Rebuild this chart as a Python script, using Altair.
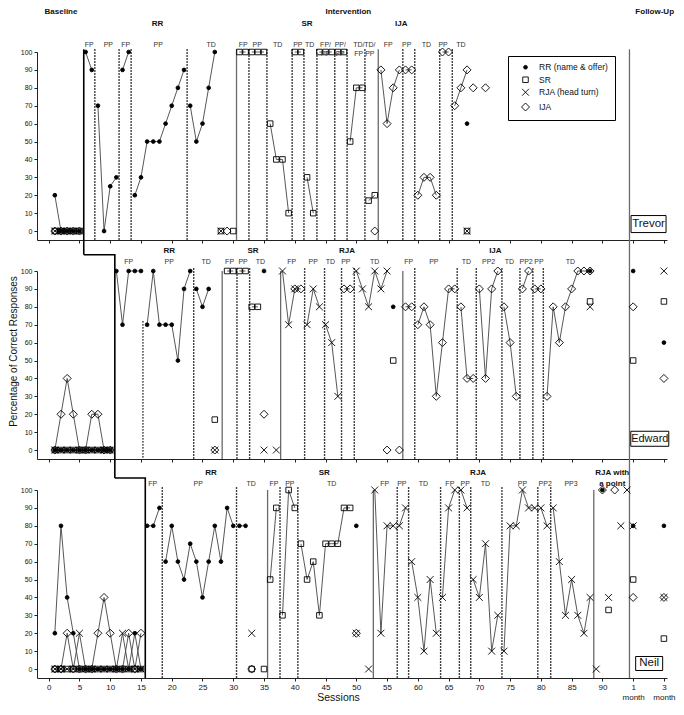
import altair as alt
import pandas as pd

# ---------------------------------------------------------------- data
SERIES = ["RR (name & offer)", "SR", "RJA (head turn)", "IJA"]
X_TICKS = [0, 5, 10, 15, 20, 25, 30, 35, 40, 45, 50, 55, 60, 65, 70, 75, 80, 85, 90, 95, 100]
Y_TICKS = [0, 10, 20, 30, 40, 50, 60, 70, 80, 90, 100]
# follow-up ticks (95 -> "1 month", 100 -> "3 month")
LABEL_EXPR = "datum.value == 95 ? ['1', 'month'] : (datum.value == 100 ? ['3', 'month'] : datum.label)"

# ---- Trevor
TREVOR_RR = [
    [(1, 20), (2, 0), (3, 0), (4, 0), (5, 0)],
    [(6, 100), (7, 90)],
    [(8, 70), (9, 0), (10, 25), (11, 30)],
    [(12, 90), (13, 100)],
    [(14, 20), (15, 30), (16, 50), (17, 50), (18, 50), (19, 60), (20, 70), (21, 80), (22, 90)],
    [(23, 70), (24, 50), (25, 60), (26, 80), (27, 100)],
    [(68, 60)],
]
TREVOR_SR = [
    [(1, 0), (2, 0), (3, 0), (4, 0), (5, 0)],
    [(28, 0)], [(30, 0)],
    [(31, 100), (32, 100)],
    [(33, 100), (34, 100), (35, 100)],
    [(36, 60), (37, 40), (38, 40), (39, 10)],
    [(40, 100), (41, 100)],
    [(42, 30), (43, 10)],
    [(44, 100), (45, 100), (46, 100)],
    [(47, 100), (48, 100)],
    [(49, 50), (50, 80), (51, 80)],
    [(52, 17), (53, 20)],
    [(68, 0)],
]
TREVOR_RJA = [
    [(1, 0), (2, 0), (3, 0), (4, 0), (5, 0)],
    [(28, 0)], [(68, 0)],
]
TREVOR_IJA = [
    [(1, 0), (2, 0), (3, 0), (4, 0), (5, 0)],
    [(29, 0)], [(53, 0)],
    [(54, 90), (55, 60), (56, 80), (57, 90)],
    [(58, 90), (59, 90)],
    [(60, 20), (61, 30), (62, 30), (63, 20)],
    [(64, 100), (65, 100)],
    [(66, 70), (67, 80), (68, 90)],
    [(69, 80)], [(71, 80)],
]

# ---- Edward
EDWARD_RR = [
    [(1, 0), (2, 0), (3, 0), (4, 0), (5, 0), (6, 0), (7, 0), (8, 0), (9, 0), (10, 0)],
    [(11, 100), (12, 70), (13, 100), (14, 100), (15, 100)],
    [(16, 70), (17, 100), (18, 70), (19, 70), (20, 70), (21, 50), (22, 90), (23, 100)],
    [(24, 90), (25, 80), (26, 90)],
    [(35, 100)], [(56, 80)], [(88, 100)],
    [(95, 100)], [(100, 60)],
]
EDWARD_SR = [
    [(1, 0), (2, 0), (3, 0), (4, 0), (5, 0), (6, 0), (7, 0), (8, 0), (9, 0), (10, 0)],
    [(27, 17)],
    [(29, 100), (30, 100)],
    [(31, 100), (32, 100)],
    [(33, 80), (34, 80)],
    [(56, 50)], [(88, 83)],
    [(95, 50)], [(100, 83)],
]
EDWARD_RJA = [
    [(1, 0), (2, 0), (3, 0), (4, 0), (5, 0), (6, 0), (7, 0), (8, 0), (9, 0), (10, 0)],
    [(27, 0)], [(35, 0)], [(37, 0)],
    [(38, 100), (39, 70), (40, 90)],
    [(42, 70), (43, 90), (44, 80)],
    [(45, 70), (46, 60), (47, 30)],
    [(50, 100), (51, 90), (52, 80), (53, 100), (54, 90), (55, 100)],
    [(88, 80)],
    [(100, 100)],
]
EDWARD_IJA = [
    [(1, 0), (2, 20), (3, 40), (4, 20), (5, 0), (6, 0), (7, 20), (8, 20), (9, 0), (10, 0)],
    [(27, 0)], [(35, 20)],
    [(40, 90), (41, 90)],
    [(48, 90), (49, 90)],
    [(55, 0)], [(57, 0)],
    [(58, 80), (59, 80)],
    [(60, 70), (61, 80), (62, 70), (63, 30), (64, 60), (65, 90), (66, 90)],
    [(67, 80), (68, 40), (69, 40)],
    [(70, 90), (71, 40), (72, 90), (73, 100)],
    [(74, 80), (75, 60), (76, 30)],
    [(77, 90), (78, 100)],
    [(79, 90), (80, 90)],
    [(81, 30), (82, 80), (83, 60), (84, 80), (85, 90), (86, 100), (87, 100), (88, 100)],
    [(95, 80)], [(100, 40)],
]

# ---- Neil
NEIL_RR = [
    [(1, 20), (2, 80), (3, 40), (4, 20), (5, 0), (6, 0), (7, 0), (8, 0), (9, 0), (10, 0),
     (11, 0), (12, 0), (13, 0), (14, 20), (15, 0)],
    [(16, 80), (17, 80), (18, 90)],
    [(19, 60), (20, 80), (21, 60), (22, 50), (23, 70), (24, 60), (25, 40), (26, 60),
     (27, 80), (28, 60), (29, 90), (30, 80)],
    [(31, 80), (32, 80)],
    [(50, 80)], [(90, 100)],
    [(95, 80)], [(100, 80)],
]
NEIL_SR = [
    [(1, 0), (2, 0), (3, 0), (4, 0), (5, 0), (6, 0), (7, 0), (8, 0), (9, 0), (10, 0),
     (11, 0), (12, 0), (13, 0), (14, 0), (15, 0)],
    [(33, 0)], [(35, 0)],
    [(36, 50), (37, 90)],
    [(38, 30), (39, 100), (40, 90)],
    [(41, 70), (42, 50), (43, 60), (44, 30), (45, 70), (46, 70), (47, 70), (48, 90), (49, 90)],
    [(91, 33)],
    [(95, 50)], [(100, 17)],
]
NEIL_RJA = [
    [(1, 0), (2, 0), (3, 0), (4, 0), (5, 20), (6, 0), (7, 0), (8, 0), (9, 0), (10, 0),
     (11, 0), (12, 20), (13, 0), (14, 0), (15, 0)],
    [(33, 20)], [(50, 20)], [(52, 0)],
    [(53, 100), (54, 20), (55, 80), (56, 80)],
    [(57, 80), (58, 90)],
    [(59, 60), (60, 40), (61, 10), (62, 50), (63, 20)],
    [(64, 40), (65, 90), (66, 100)],
    [(67, 100), (68, 90)],
    [(69, 50), (70, 40), (71, 70), (72, 10), (73, 30)],
    [(74, 10), (75, 80), (76, 80), (77, 100), (78, 90), (79, 90)],
    [(80, 90), (81, 80)],
    [(82, 90), (83, 60), (84, 30), (85, 50), (86, 30), (87, 20), (88, 40)],
    [(89, 0)], [(91, 40)], [(93, 80)], [(94, 100)],
    [(95, 80)], [(100, 40)],
]
NEIL_IJA = [
    [(1, 0), (2, 0), (3, 20), (4, 0), (5, 0), (6, 0), (7, 0), (8, 20), (9, 40), (10, 20),
     (11, 0), (12, 0), (13, 20), (14, 0), (15, 20)],
    [(33, 0)], [(50, 20)],
    [(90, 100)], [(92, 100)],
    [(95, 40)], [(100, 40)],
]

# ---- phase-change lines (session positions)
TREVOR_DOTTED = [7.5, 11.44, 13.4, 22.5, 32.55, 35.47, 39.57, 41.49, 43.6, 46.5, 48.5,
                 51.4, 57.56, 59.5, 63.56, 65.6]
TREVOR_SOLID = [30.53, 53.57]
EDWARD_DOTTED = [15.32, 23.57, 30.6, 32.66, 41.6, 44.84, 47.6, 49.67, 59.5, 66.4, 69.5,
                 73.67, 76.6, 78.7, 80.4]
EDWARD_SOLID = [28.2, 37.7, 57.56]
NEIL_DOTTED = [18.46, 30.53, 37.6, 40.5, 56.65, 58.5, 63.7, 66.75, 68.6, 73.67, 79.5, 81.6]
NEIL_SOLID = [35.58, 52.77, 88.6]
FOLLOW_UP_LINE = 94.4

# baseline -> intervention staircase, piece drawn in each panel
TREVOR_STEP = [(5.7, 101.5), (5.7, -13.2)]
EDWARD_STEP = [(5.7, 109.1), (10.75, 109.1), (10.75, -15.6)]
NEIL_STEP = [(10.75, 106.7), (15.7, 106.7), (15.7, -5)]

# ---- texts
HEADERS = [("Baseline", 2.0), ("Intervention", 48.7), ("Follow-Up", 98.5)]
TREVOR_PHASES = [("RR", 17.7), ("SR", 42.0), ("IJA", 57.3)]
TREVOR_SUB = [("FP", 6.6), ("PP", 9.7), ("FP", 12.5), ("PP", 17.8), ("TD", 26.4),
              ("FP", 31.6), ("PP", 33.9), ("TD", 37.2), ("PP", 40.5), ("TD", 42.4),
              ("FP/\nFP", 45.0), ("PP/\nFP", 47.4), ("TD/\nFP", 50.4), ("TD/\nPP", 52.2),
              ("FP", 55.2), ("PP", 58.2), ("TD", 61.4), ("PP", 64.1), ("TD", 67.0)]
EDWARD_PHASES = [("RR", 19.6), ("SR", 33.2), ("RJA", 48.5), ("IJA", 72.6)]
EDWARD_SUB = [("FP", 13.0), ("PP", 19.6), ("TD", 25.6), ("FP", 29.4), ("PP", 31.6),
              ("TD", 34.4), ("FP", 39.5), ("PP", 43.0), ("TD", 45.8), ("PP", 48.3),
              ("TD", 53.0), ("FP", 58.5), ("PP", 62.6), ("TD", 67.9), ("PP2", 71.5),
              ("TD", 74.9), ("PP2", 77.6), ("PP", 79.7), ("TD", 84.8)]
NEIL_PHASES = [("RR", 26.4), ("SR", 44.8), ("RJA", 69.8), ("RJA with\na point", 91.6)]
NEIL_SUB = [("FP", 16.9), ("PP", 24.3), ("TD", 32.9), ("FP", 36.6), ("PP", 39.2),
            ("TD", 46.0), ("FP", 54.6), ("PP", 57.4), ("TD", 60.9), ("FP", 65.2),
            ("PP", 67.7), ("TD", 71.0), ("PP", 77.0), ("PP2", 80.7), ("PP3", 84.9)]

# ---------------------------------------------------------------- layout / style
XDOM = [-1.9, 100.5]
YDOM = [-5, 100]
W, H, GAP = 630, 188, 31
XPATH = "M-1,-1L1,1M-1,1L1,-1"
SHAPES = ["circle", "square", XPATH, "diamond"]
FILLS = ["black", "transparent", "transparent", "transparent"]
STROKES = ["black", "black", "black", "black"]

PANELS = [
    dict(name="Trevor", groups=[TREVOR_RR, TREVOR_SR, TREVOR_RJA, TREVOR_IJA],
         dotted=TREVOR_DOTTED, short={}, solid=TREVOR_SOLID, solid_top=101.5,
         step=TREVOR_STEP, fu=(101.5, -22.3),
         phases=TREVOR_PHASES, phase_y=115.6, sub=TREVOR_SUB, sub_y=102.0,
         name_xy=(97.5, 3.9), box=(35, 17), name_size=11.5),
    dict(name="Edward", groups=[EDWARD_RR, EDWARD_SR, EDWARD_RJA, EDWARD_IJA],
         dotted=EDWARD_DOTTED, short={15.32: 72}, solid=EDWARD_SOLID, solid_top=100,
         step=EDWARD_STEP, fu=(100, -22.3),
         phases=EDWARD_PHASES, phase_y=111.0, sub=EDWARD_SUB, sub_y=103.2,
         name_xy=(97.7, 6.3), box=(38, 15), name_size=11),
    dict(name="Neil", groups=[NEIL_RR, NEIL_SR, NEIL_RJA, NEIL_IJA],
         dotted=NEIL_DOTTED, short={}, solid=NEIL_SOLID, solid_top=100,
         step=NEIL_STEP, fu=(100, -5),
         phases=NEIL_PHASES, phase_y=109.6, sub=NEIL_SUB, sub_y=101.4,
         name_xy=(97.6, 3.1), box=(27, 14), name_size=11.5),
]


def series_frame(groups):
    rows = []
    for sname, segs in zip(SERIES, groups):
        for k, seg in enumerate(segs):
            for sx, sy in seg:
                rows.append({"series": sname, "seg": f"{sname}-{k}", "x": sx, "y": sy})
    return pd.DataFrame(rows)


def build_panel(cfg, idx):
    first, last = idx == 0, idx == 2
    xs = alt.Scale(domain=XDOM, nice=False, zero=False)
    ys = alt.Scale(domain=YDOM, nice=False, zero=False)

    xaxis_kw = dict(values=X_TICKS, grid=False, tickSize=3, tickColor="#222",
                    domainColor="#222", labels=last, labelFontSize=8, labelPadding=2,
                    labelColor="#111", labelOverlap=False, labelFlush=False,
                    labelLineHeight=10, labelExpr=LABEL_EXPR)
    if last:
        xaxis_kw.update(titleFontSize=10.5, titleFontWeight="normal", titleColor="#111",
                        titleY=14, titleX=round((47 - XDOM[0]) / (XDOM[1] - XDOM[0]) * W))
    yaxis_kw = dict(values=Y_TICKS, grid=False, tickSize=3, tickColor="#222",
                    domainColor="#222", labelFontSize=7, labelPadding=2, labelColor="#111")
    if idx == 1:
        yaxis_kw.update(titleFontSize=10, titleFontWeight="normal", titleColor="#111",
                        titlePadding=2, titleY=80)

    X = alt.X("x:Q", scale=xs, axis=alt.Axis(**xaxis_kw),
              title="Sessions" if last else None)
    Y = alt.Y("y:Q", scale=ys, axis=alt.Axis(**yaxis_kw),
              title="Percentage of Correct Responses" if idx == 1 else None)

    # vertical phase lines
    dot_df = pd.DataFrame({"x": cfg["dotted"],
                           "y": [cfg["short"].get(v, 101.5) for v in cfg["dotted"]],
                           "y2": [-5] * len(cfg["dotted"])})
    dotted = alt.Chart(dot_df).mark_rule(color="black", strokeWidth=1.4,
                                         strokeDash=[1.4, 1.6]).encode(x=X, y=Y, y2="y2:Q")
    sol_df = pd.DataFrame({"x": cfg["solid"], "y": [cfg["solid_top"]] * len(cfg["solid"]),
                           "y2": [-5] * len(cfg["solid"])})
    solid = alt.Chart(sol_df).mark_rule(color="#6a6a6a", strokeWidth=1.3).encode(
        x=X, y=Y, y2="y2:Q")
    fu_df = pd.DataFrame({"x": [FOLLOW_UP_LINE], "y": [cfg["fu"][0]], "y2": [cfg["fu"][1]]})
    fu = alt.Chart(fu_df).mark_rule(color="#6a6a6a", strokeWidth=1.3).encode(
        x=X, y=Y, y2="y2:Q")
    step_df = pd.DataFrame({"x": [p[0] for p in cfg["step"]],
                            "y": [p[1] for p in cfg["step"]],
                            "o": list(range(len(cfg["step"])))})
    step = alt.Chart(step_df).mark_line(color="black", strokeWidth=1.6).encode(
        x=X, y=Y, order="o:Q")

    # data series
    sdf = series_frame(cfg["groups"])
    lines = alt.Chart(sdf).mark_line(color="#444", strokeWidth=0.9).encode(
        x=X, y=Y, detail="seg:N", order="x:Q")
    if first:
        leg = alt.Legend(title=None, orient="none",
                         legendX=round((74.7 - XDOM[0]) / (XDOM[1] - XDOM[0]) * W),
                         legendY=4, strokeColor="black", fillColor="white", padding=7,
                         labelFontSize=8.5, labelColor="#111", rowPadding=2.5,
                         symbolOffset=6, labelOffset=9, symbolStrokeWidth=0.9)
    else:
        leg = None
    pts = alt.Chart(sdf).mark_point(filled=True, strokeWidth=0.9, opacity=1).encode(
        x=X, y=Y,
        shape=alt.Shape("series:N", scale=alt.Scale(domain=SERIES, range=SHAPES), legend=leg),
        fill=alt.Fill("series:N", scale=alt.Scale(domain=SERIES, range=FILLS), legend=leg),
        stroke=alt.Stroke("series:N", scale=alt.Scale(domain=SERIES, range=STROKES),
                          legend=leg),
        size=alt.Size("series:N", scale=alt.Scale(domain=SERIES, range=[14, 64], padding=0),
                      legend=leg),
    )

    # texts
    sub_df = pd.DataFrame({"t": [s[0] for s in cfg["sub"]], "x": [s[1] for s in cfg["sub"]],
                           "y": [cfg["sub_y"]] * len(cfg["sub"])})
    sub = alt.Chart(sub_df).mark_text(fontSize=7, color="#333", baseline="bottom",
                                      lineBreak="\n").encode(x=X, y=Y, text="t:N")
    ph_df = pd.DataFrame({"t": [s[0] for s in cfg["phases"]],
                          "x": [s[1] for s in cfg["phases"]],
                          "y": [cfg["phase_y"]] * len(cfg["phases"])})
    ph = alt.Chart(ph_df).mark_text(fontSize=8, fontWeight="bold", color="#111",
                                    baseline="middle", lineBreak="\n",
                                    lineHeight=11).encode(x=X, y=Y, text="t:N")

    bw, bh = cfg["box"]
    name_df = pd.DataFrame({"t": [cfg["name"]], "x": [cfg["name_xy"][0]],
                            "y": [cfg["name_xy"][1]]})
    box = alt.Chart(name_df).mark_point(
        shape=f"M-1,{-bh / bw:.3f}H1V{bh / bw:.3f}H-1Z", size=bw * bw, filled=False,
        stroke="black", strokeWidth=1, opacity=1).encode(x=X, y=Y)
    name = alt.Chart(name_df).mark_text(fontSize=cfg["name_size"], color="#111",
                                        baseline="middle").encode(x=X, y=Y, text="t:N")

    layers = [dotted, solid, fu, step, lines, pts, sub, ph, box, name]
    if first:
        hd_df = pd.DataFrame({"t": [h[0] for h in HEADERS], "x": [h[1] for h in HEADERS],
                              "y": [122.3] * len(HEADERS)})
        layers.append(alt.Chart(hd_df).mark_text(fontSize=8, fontWeight="bold",
                                                 color="#111", baseline="middle").encode(
            x=X, y=Y, text="t:N"))
    return alt.layer(*layers).properties(width=W, height=H)


panels = [build_panel(c, i) for i, c in enumerate(PANELS)]

chart = (
    alt.vconcat(*panels, spacing=GAP, bounds="flush")
    .resolve_scale(shape="independent", fill="independent", size="independent",
                   stroke="independent")
    .resolve_legend(shape="independent", fill="independent", size="independent",
                    stroke="independent")
    .properties(padding=0)
    .configure(font="Liberation Sans")
    .configure_view(stroke=None)
)

chart.save("out.html", embed_options={"renderer": "svg", "actions": False})
